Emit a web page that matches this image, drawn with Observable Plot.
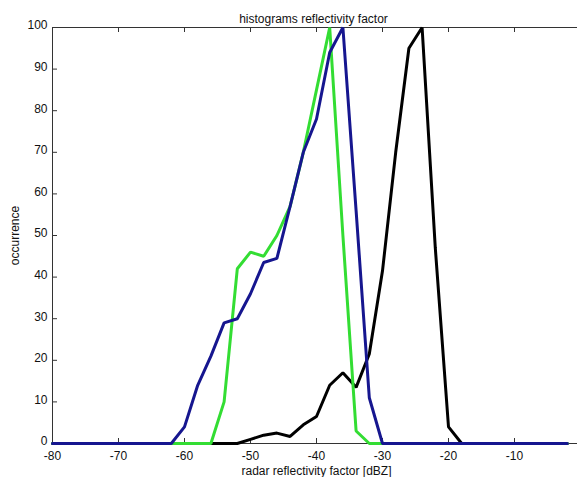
<!DOCTYPE html>
<html>
<head>
<meta charset="utf-8">
<script src="https://cdn.jsdelivr.net/npm/d3@7"></script>
<script src="https://cdn.jsdelivr.net/npm/@observablehq/plot@0.6"></script>
<style>
  html, body { margin: 0; padding: 0; background: #fff; }
</style>
</head>
<body>
<div id="chart"></div>
<script>
const title = "histograms reflectivity factor";
const xLabel = "radar reflectivity factor [dBZ]";
const yLabel = "occurrence";
const xTicks = [-80, -70, -60, -50, -40, -30, -20, -10];
const yTicks = [0, 10, 20, 30, 40, 50, 60, 70, 80, 90, 100];

const bins = [-80, -78, -76, -74, -72, -70, -68, -66, -64, -62,
              -60, -58, -56, -54, -52, -50, -48, -46, -44, -42,
              -40, -38, -36, -34, -32, -30, -28, -26, -24, -22,
              -20, -18, -16, -14, -12, -10, -8, -6, -4, -2];

const black = [0, 0, 0, 0, 0, 0, 0, 0, 0, 0,
               0, 0, 0, 0, 0, 1, 2, 2.5, 1.7, 4.5,
               6.5, 14, 17, 13.5, 21.5, 41.5, 70, 95, 100, 47,
               4, 0, 0, 0, 0, 0, 0, 0, 0, 0];

const green = [0, 0, 0, 0, 0, 0, 0, 0, 0, 0,
               0, 0, 0, 10, 42, 46, 45, 50, 57, 70,
               85, 100, 50, 3, 0, 0, 0, 0, 0, 0,
               0, 0, 0, 0, 0, 0, 0, 0, 0, 0];

const blue = [0, 0, 0, 0, 0, 0, 0, 0, 0, 0,
              4, 14, 21, 29, 30, 36, 43.5, 44.5, 57, 70,
              78, 94, 100, 56, 11, 0, 0, 0, 0, 0,
              0, 0, 0, 0, 0, 0, 0, 0, 0, 0];

const seriesColors = {black: "#000000", green: "#33dd33", blue: "#16168f"};

const rows = name => bins.map((b, i) => ({x: b, y: {black, green, blue}[name][i], s: name}));

const W = 577, H = 477;
const mL = 52, mT = 27, mB = 34, mR = -3;
const fw = W - mL - mR, fh = H - mT - mB;

const plot = Plot.plot({
  width: W,
  height: H,
  marginLeft: mL,
  marginTop: mT,
  marginBottom: mB,
  marginRight: mR,
  x: {domain: [-80, 0]},
  y: {domain: [0, 100]},
  style: {fontFamily: "'Liberation Sans', Arial, sans-serif", fontSize: "12px", background: "#fff", color: "#111", overflow: "hidden"},
  marks: [
    Plot.frame({stroke: "#333", strokeWidth: 1}),
    Plot.ruleX(xTicks, {x: d => d, insetTop: fh - 5, stroke: "#333"}),
    Plot.ruleX(xTicks, {x: d => d, insetBottom: fh - 5, stroke: "#333"}),
    Plot.ruleY(yTicks, {y: d => d, insetRight: fw - 5, stroke: "#333"}),
    Plot.axisX({anchor: "bottom", ticks: xTicks, tickSize: 0, tickPadding: 8, tickFormat: d => String(d),
      label: xLabel, labelAnchor: "center", labelArrow: "none", labelOffset: 31}),
    Plot.axisY({anchor: "left", ticks: yTicks, tickSize: 0, tickPadding: 5, dy: -2, tickFormat: d => String(d),
      label: yLabel, labelAnchor: "center", labelArrow: "none", labelOffset: 42}),
    Plot.lineY(rows("black"), {x: "x", y: "y", stroke: seriesColors.black, strokeWidth: 3, strokeLinejoin: "miter"}),
    Plot.lineY(rows("green"), {x: "x", y: "y", stroke: seriesColors.green, strokeWidth: 3, strokeLinejoin: "miter"}),
    Plot.lineY(rows("blue"), {x: "x", y: "y", stroke: seriesColors.blue, strokeWidth: 3, strokeLinejoin: "miter"}),
    Plot.text([title], {frameAnchor: "top", dy: -13, dx: -3, fontSize: 12, fill: "#111"})
  ]
});
document.getElementById("chart").appendChild(plot);
</script>
</body>
</html>
